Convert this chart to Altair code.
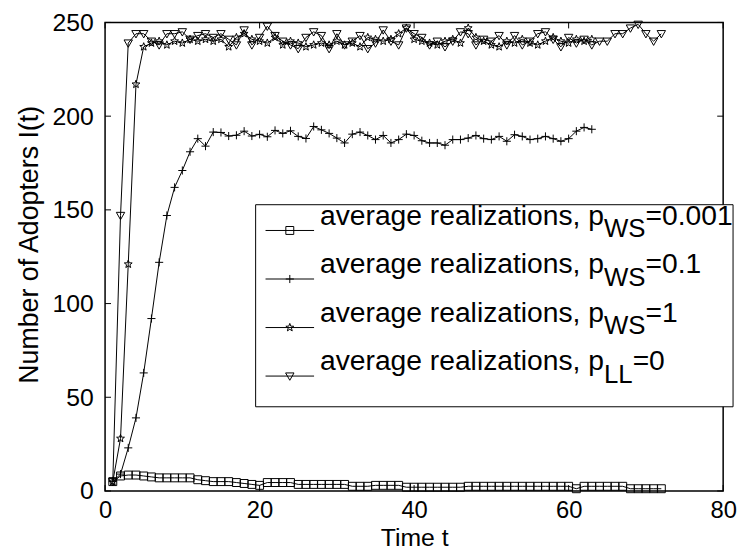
import math
import altair as alt
import pandas as pd

# ---------------- data ----------------
t_sq = list(range(1, 73))
sq_vals = [5, 8, 8.5, 8.5, 8, 7.5, 7, 7, 7, 7,
           7, 6, 5.5, 5, 5, 5, 4.5, 4, 3.5, 3,
           4.5, 4.5, 4.5, 4.5, 3.5, 3.5, 3.5, 3.5, 3.5, 3.5,
           3.5, 2.5, 2.5, 2.5, 3, 3, 3, 3, 2, 2,
           2, 2, 2, 2, 2, 2, 2.5, 2.5, 2.5, 2.5,
           2.5, 2.5, 2.5, 2.5, 2.5, 2.5, 2.5, 2.5, 2.5, 2.5,
           1.2, 2.5, 2.5, 2.5, 2.5, 2.5, 2.5, 1.2, 1.2, 1.2,
           1.2, 1.2]

t_plus = list(range(1, 64))
plus_vals = [5, 9, 23, 39, 63, 92, 122, 147, 162, 171,
             181, 188, 184, 191.5, 191.3, 189.4, 189.8, 192, 189.4, 190.3,
             189, 192.4, 190.8, 192.2, 189.2, 188.1, 194.5, 192.7, 190.8, 188.3,
             185.7, 190.4, 191.5, 189.7, 187.5, 189.7, 185.7, 187.5, 190.4, 189.7,
             186.9, 185.7, 185.7, 184.5, 187.5, 187.5, 188.3, 189.7, 188, 187.5,
             189.2, 186.6, 190.1, 189.2, 187.5, 188, 189.2, 188, 186.6, 188,
             192, 194, 193]

t_star = list(range(1, 64))
star_vals = [5, 28, 121, 217, 237, 239, 240, 238, 240, 239,
             241, 240, 241, 240, 241, 237, 242, 244, 241, 240,
             239, 242, 238, 240, 239, 237, 238, 239, 238, 240,
             238, 239, 237, 242, 241, 240, 241, 244, 247, 241,
             240, 239, 238, 240, 241, 239, 247, 242, 240, 238,
             237, 240, 239, 241, 239, 238, 240, 242, 240, 239,
             241, 240, 241]

t_tri = list(range(1, 73))
tri_vals = [5, 147, 239, 244, 244, 240, 238, 244, 244, 245,
            241, 243, 244, 242, 244, 241, 238, 246, 238, 242,
            248, 243, 240, 238, 236, 242, 245, 243, 236, 244,
            238, 240, 243, 236, 239, 246, 240, 238, 247, 244,
            242, 238, 240, 237, 240, 245, 244, 238, 241, 240,
            243, 238, 243, 238, 240, 244, 245, 241, 237, 242,
            239, 241, 238, 240, 240, 244, 244, 247, 249, 244,
            240, 244]

series_names = ["pWS=0.001", "pWS=0.1", "pWS=1", "pLL=0"]
legend_prefix = "average realizations, p"
legend_subs = ["WS", "WS", "WS", "LL"]
legend_tails = ["=0.001", "=0.1", "=1", "=0"]
x_ticks = [0, 20, 40, 60, 80]
y_ticks = [0, 50, 100, 150, 200, 250]

# ---------------- build tables ----------------
rows = []
for name, ts, vs in zip(series_names, [t_sq, t_plus, t_star, t_tri],
                        [sq_vals, plus_vals, star_vals, tri_vals]):
    for t, v in zip(ts, vs):
        rows.append({"t": t, "v": v, "series": name})
df = pd.DataFrame(rows)

legend_df = pd.DataFrame({"series": series_names, "prefix": [legend_prefix] * 4,
                          "sub": legend_subs, "tail": legend_tails})

# ---------------- marker shapes ----------------
square_path = "M-1,-1L1,-1L1,1L-1,1Z"
plus_path = "M-1,0L1,0M0,-1L0,1"
pts = []
for k in range(10):
    ang = math.radians(-90 + 36 * k)
    r = 1.0 if k % 2 == 0 else 0.42
    pts.append(f"{r*math.cos(ang):.3f},{r*math.sin(ang):.3f}")
star_path = "M" + "L".join(pts) + "Z"
tri_path = "M-1,-0.75L1,-0.75L0,1Z"

shape_scale = alt.Scale(domain=series_names,
                        range=[square_path, plus_path, star_path, tri_path])
size_scale = alt.Scale(domain=series_names, range=[64, 72, 64, 85])

W, H = 624, 473
FONT = "Liberation Sans"

x_axis = alt.Axis(values=x_ticks, title="Time t", ticks=False, tickSize=0,
                  domain=False, grid=False, labelFontSize=24,
                  labelPadding=8, labelFlush=False, labelColor="black",
                  titleFontSize=25, titleFontWeight="normal",
                  titleColor="black", titleX=W / 2, titleY=55,
                  titleBaseline="alphabetic")
y_axis = alt.Axis(values=y_ticks, title="Number of Adopters I(t)",
                  ticks=False, tickSize=0, domain=False, grid=False,
                  labelFontSize=25, labelPadding=12, labelColor="black",
                  titleFontSize=27, titleFontWeight="normal",
                  titleColor="black", titleAngle=270, titleX=-68,
                  titleY=224, titleBaseline="alphabetic",
                  titleAlign="center")
x_scale = alt.Scale(domain=[0, 80], nice=False)
y_scale = alt.Scale(domain=[0, 250], nice=False)


def X():
    return alt.X("t:Q", scale=x_scale, axis=x_axis)


def Y():
    return alt.Y("v:Q", scale=y_scale, axis=y_axis)


lines = alt.Chart(df).mark_line(color="black", strokeWidth=1).encode(
    x=X(), y=Y(), detail="series:N", order="t:Q")

points = alt.Chart(df).mark_point(filled=False, color="black", strokeWidth=1,
                                  opacity=1).encode(
    x=X(), y=Y(),
    shape=alt.Shape("series:N", scale=shape_scale, legend=None),
    size=alt.Size("series:N", scale=size_scale, legend=None))

# inward ticks
xt = pd.DataFrame({"t": x_ticks})
yt = pd.DataFrame({"v": y_ticks})
tick_bottom = alt.Chart(xt).mark_rule(color="black", strokeWidth=1).encode(
    x=X(), y=alt.value(H), y2=alt.value(H - 6))
tick_top = alt.Chart(xt).mark_rule(color="black", strokeWidth=1).encode(
    x=X(), y=alt.value(0), y2=alt.value(6))
tick_left = alt.Chart(yt).mark_rule(color="black", strokeWidth=1).encode(
    y=Y(), x=alt.value(0), x2=alt.value(6))
tick_right = alt.Chart(yt).mark_rule(color="black", strokeWidth=1).encode(
    y=Y(), x=alt.value(W), x2=alt.value(W - 6))

# legend
LX0, LX1, LY0, LY1 = 152, 634, 184, 388
legend_layers = [
    alt.Chart(legend_df.iloc[[0]]).mark_rect(fill="white", stroke="black",
                                             strokeWidth=1).encode(
        x=alt.value(LX0), x2=alt.value(LX1), y=alt.value(LY0), y2=alt.value(LY1))
]
FS_MAIN, FS_SUB = 28.5, 26
TX = 217
SUBX = TX + 10.06 * FS_MAIN
for i in range(4):
    row = legend_df.iloc[[i]]
    ly = 210 + 49 * i
    by = 204 + 49 * i
    subw = (1.611 if legend_subs[i] == "WS" else 1.112) * FS_SUB
    legend_layers += [
        alt.Chart(row).mark_rule(color="black", strokeWidth=1).encode(
            x=alt.value(162), x2=alt.value(211), y=alt.value(ly)),
        alt.Chart(row).mark_point(filled=False, color="black", strokeWidth=1,
                                  opacity=1).encode(
            x=alt.value(186.5), y=alt.value(ly),
            shape=alt.Shape("series:N", scale=shape_scale, legend=None),
            size=alt.Size("series:N", scale=size_scale, legend=None)),
        alt.Chart(row).mark_text(align="left", baseline="alphabetic",
                                 fontSize=FS_MAIN, font=FONT, color="black").encode(
            x=alt.value(TX), y=alt.value(by), text="prefix:N"),
        alt.Chart(row).mark_text(align="left", baseline="alphabetic",
                                 fontSize=FS_SUB, font=FONT, color="black").encode(
            x=alt.value(SUBX), y=alt.value(by + 13), text="sub:N"),
        alt.Chart(row).mark_text(align="left", baseline="alphabetic",
                                 fontSize=FS_MAIN, font=FONT, color="black").encode(
            x=alt.value(SUBX + subw), y=alt.value(by), text="tail:N"),
    ]

chart = alt.layer(lines, points, tick_bottom, tick_top, tick_left, tick_right,
                  *legend_layers).properties(
    width=W, height=H,
    autosize=alt.AutoSizeParams(type="none"),
    padding={"left": 98, "top": 12, "right": 16, "bottom": 58},
).configure(font=FONT).configure_view(stroke="black", strokeWidth=1.5).configure_axis(
    labelFont=FONT, titleFont=FONT)

chart.save("out.html", embed_options={"renderer": "svg", "actions": False})
